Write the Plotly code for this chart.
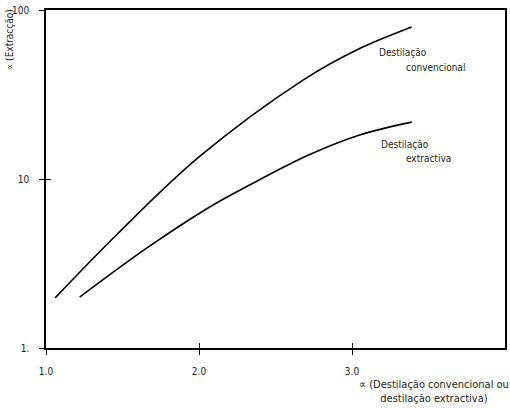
import plotly.graph_objects as go

# Data
conv_x = [1.06, 1.46, 2.00, 2.68, 3.03, 3.39]
conv_y = [1.98, 4.66, 13.5, 38.5, 58.0, 79.3]
extr_x = [1.22, 1.66, 2.07, 2.33, 2.72, 3.05, 3.39]
extr_y = [2.00, 3.91, 6.83, 9.21, 13.9, 18.2, 21.7]

x_ticks = [1.0, 2.0, 3.0]
x_ticklabels = ["1.0", "2.0", "3.0"]
y_ticks = [1, 10, 100]
y_ticklabels = ["1.", "10", "100"]

FONT = "DejaVu Sans Condensed, Liberation Sans Narrow, Arial Narrow, DejaVu Sans, sans-serif"
TXT = "#222"

W, H = 510, 408
L, R, T, B = 46, 3, 10, 60
PW, PH = W - L - R, H - T - B


def px(x):
    return (x - L) / PW


def py(y):
    return (H - B - y) / PH


fig = go.Figure()
for xs, ys in [(conv_x, conv_y), (extr_x, extr_y)]:
    fig.add_trace(go.Scatter(x=xs, y=ys, mode="lines",
                             line=dict(color="black", width=1.6, shape="spline", smoothing=1.0),
                             showlegend=False, hoverinfo="skip"))
# invisible trace to carry the overlay axes (inner half of the crossing ticks)
fig.add_trace(go.Scatter(x=conv_x, y=conv_y, mode="lines", xaxis="x2", yaxis="y2",
                         line=dict(color="rgba(0,0,0,0)", width=0),
                         showlegend=False, hoverinfo="skip"))

axis_common = dict(showgrid=False, zeroline=False, tickcolor="black", ticklen=5, tickwidth=1.2)

fig.update_layout(
    width=W, height=H,
    margin=dict(l=L, r=R, t=T, b=B),
    paper_bgcolor="white", plot_bgcolor="white",
    font=dict(family=FONT, size=10, color=TXT),
    xaxis=dict(range=[1.0, 4.0], tickvals=x_ticks, ticktext=x_ticklabels,
               showline=True, linecolor="black", linewidth=1.5, mirror=True,
               ticks="outside", tickfont=dict(size=10, family=FONT, color=TXT),
               ticklabelstandoff=8, **axis_common),
    yaxis=dict(type="log", range=[0, 2], tickvals=y_ticks, ticktext=y_ticklabels,
               showline=True, linecolor="black", linewidth=1.5, mirror=True,
               ticks="outside", tickfont=dict(size=10, family=FONT, color=TXT),
               ticklabelstandoff=8, **axis_common),
    xaxis2=dict(range=[1.0, 4.0], tickvals=x_ticks, showticklabels=False,
                overlaying="x", anchor="y2", side="bottom", showline=False,
                ticks="inside", **axis_common),
    yaxis2=dict(type="log", range=[0, 2], tickvals=y_ticks, showticklabels=False,
                overlaying="y", anchor="x2", side="left", showline=False,
                ticks="inside", **axis_common),
)

ann = [
    dict(x=378, y=53, text="Destilação"),
    dict(x=406, y=67, text="convencional"),
    dict(x=380, y=144, text="Destilação"),
    dict(x=406, y=158, text="extractiva"),
]
for a in ann:
    fig.add_annotation(x=px(a["x"]), y=py(a["y"]), xref="paper", yref="paper",
                       text=a["text"], showarrow=False, xanchor="left", yanchor="middle",
                       font=dict(size=10, family=FONT, color=TXT))

fig.add_annotation(x=px(436), y=py(391), xref="paper", yref="paper",
                   text="∝ (Destilação convencional ou<br>destilação extractiva)",
                   showarrow=False, xanchor="center", yanchor="middle", align="center",
                   font=dict(size=11, family=FONT, color=TXT))

fig.add_annotation(x=px(9), y=py(40), xref="paper", yref="paper",
                   text="∝ (Extracção)", textangle=-90,
                   showarrow=False, xanchor="center", yanchor="middle",
                   font=dict(size=10, family=FONT, color=TXT))

fig.write_html("out.html")
